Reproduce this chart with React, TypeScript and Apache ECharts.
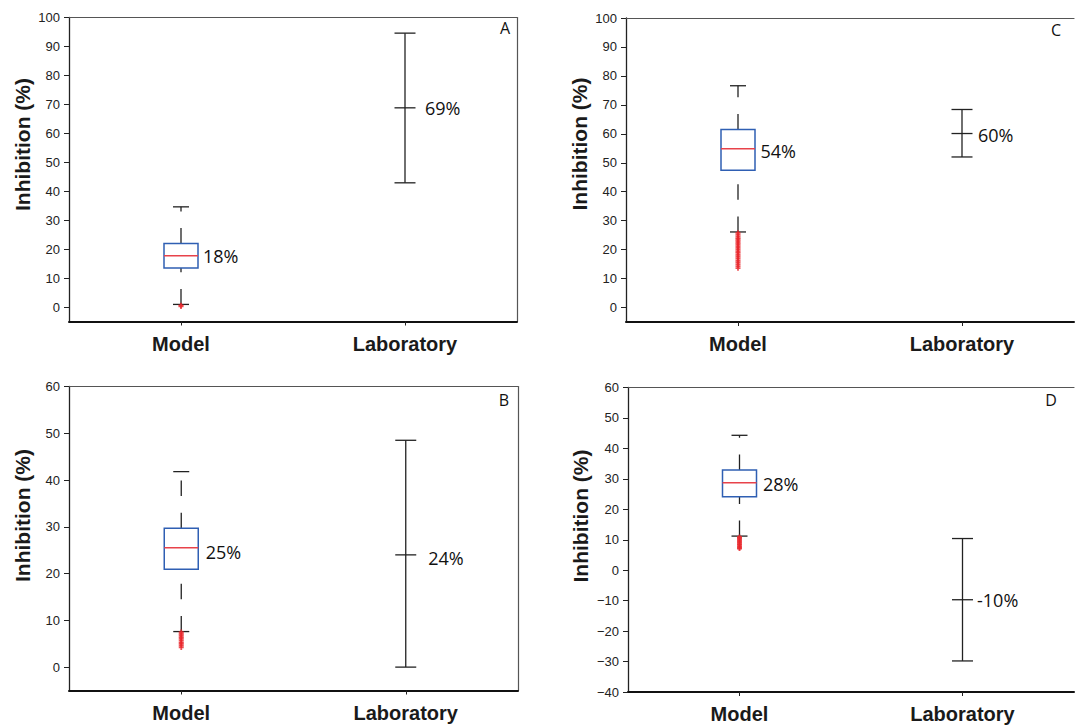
import React, { useEffect, useRef } from "react";
import * as echarts from "echarts";

// ---------- data ----------
const categories = ["Model", "Laboratory"];
const panelLetters = ["A", "B", "C", "D"];
const yTitle = "Inhibition (%)";

// Model box stats: [lower whisker, Q1, median, Q3, upper whisker]
const modelA = [0.9, 13.5, 17.7, 21.9, 34.6];
const modelB = [7.6, 20.9, 25.5, 29.7, 41.8];
const modelC = [26.1, 47.4, 54.8, 61.5, 76.6];
const modelD = [11.2, 24.1, 28.7, 32.9, 44.3];

// Model outliers (red +)
const outliersA = [0.6, 0.2];
const outliersB = [7.5, 7.1, 6.8, 6.4, 6.1, 5.7, 5.3, 5.0, 4.6, 4.2];
const outliersC = [25.8, 25.2, 24.6, 24.0, 23.5, 22.9, 22.3, 21.8, 21.2, 20.6, 20.0, 19.4, 18.9, 18.2, 17.6, 17.0, 16.3, 15.7, 15.0, 14.3, 13.6];
const outliersD = [10.9, 10.5, 10.1, 9.6, 9.2, 8.7, 8.3, 7.8, 7.4, 7.1];

// Laboratory: [low, mean, high]
const labA = [42.9, 68.8, 94.6];
const labB = [0, 24.0, 48.5];
const labC = [52.0, 60.1, 68.4];
const labD = [-29.8, -9.7, 10.4];

const modelLabels = ["18%", "25%", "54%", "28%"];
const labLabels = ["69%", "24%", "60%", "-10%"];

const ticks0to100 = [0, 10, 20, 30, 40, 50, 60, 70, 80, 90, 100];
const ticks0to60 = [0, 10, 20, 30, 40, 50, 60];
const ticksM40to60 = [-40, -30, -20, -10, 0, 10, 20, 30, 40, 50, 60];

// ---------- layout / style ----------
const panels = [
  { model: modelA, out: outliersA, lab: labA, mLabel: modelLabels[0], lLabel: labLabels[0], letter: panelLetters[0], ticks: ticks0to100, min: -5, max: 100,
    grid: { left: 69, top: 17.5, width: 448, height: 304 }, rightFrame: true, title: [22.5, 144.5], letterPos: [505, 28], mOff: [5, 0.7], lOff: [20, 0] },
  { model: modelB, out: outliersB, lab: labB, mLabel: modelLabels[1], lLabel: labLabels[1], letter: panelLetters[1], ticks: ticks0to60, min: -5, max: 60,
    grid: { left: 69, top: 386.5, width: 449, height: 304 }, rightFrame: true, title: [22.5, 515.5], letterPos: [504, 400], mOff: [7.5, 4], lOff: [22.5, 3.5] },
  { model: modelC, out: outliersC, lab: labC, mLabel: modelLabels[2], lLabel: labLabels[2], letter: panelLetters[2], ticks: ticks0to100, min: -5, max: 100,
    grid: { left: 626, top: 18, width: 448, height: 304 }, rightFrame: false, title: [579.5, 144], letterPos: [1056, 30], mOff: [5.5, 1.7], lOff: [16, 1.8] },
  { model: modelD, out: outliersD, lab: labD, mLabel: modelLabels[3], lLabel: labLabels[3], letter: panelLetters[3], ticks: ticksM40to60, min: -40, max: 60,
    grid: { left: 628, top: 387.5, width: 446, height: 304.5 }, rightFrame: false, title: [580, 516], letterPos: [1051, 400], mOff: [6.5, 0.7], lOff: [14.5, 0.3] },
];

const SANS = '"Liberation Sans", Arial, Helvetica, sans-serif';
const LABEL_FONT = '"Open Sans", "Noto Sans", sans-serif';
const INK = "#222";
const FRAME = "#555";

function boxRenderer(label: string, dx: number, dy: number) {
  return (_params: any, api: any) => {
    const xi = api.value(0);
    const lo = api.coord([xi, api.value(1)]);
    const q1 = api.coord([xi, api.value(2)]);
    const md = api.coord([xi, api.value(3)]);
    const q3 = api.coord([xi, api.value(4)]);
    const hi = api.coord([xi, api.value(5)]);
    const cx = lo[0];
    const bh = 17;
    const ch = 8;
    const dash = { stroke: INK, lineWidth: 1.3, lineDash: [15.5, 16.7] };
    const solid = { stroke: INK, lineWidth: 1.3 };
    return {
      type: "group",
      children: [
        { type: "line", shape: { x1: cx, y1: lo[1], x2: cx, y2: q1[1] }, style: dash },
        { type: "line", shape: { x1: cx, y1: q3[1], x2: cx, y2: hi[1] }, style: dash },
        { type: "line", shape: { x1: cx - ch, y1: lo[1], x2: cx + ch, y2: lo[1] }, style: solid },
        { type: "line", shape: { x1: cx - ch, y1: hi[1], x2: cx + ch, y2: hi[1] }, style: solid },
        { type: "rect", shape: { x: cx - bh, y: q3[1], width: 2 * bh, height: q1[1] - q3[1] }, style: { fill: "none", stroke: "#2f5fb3", lineWidth: 1.5 } },
        { type: "line", shape: { x1: cx - bh, y1: md[1], x2: cx + bh, y2: md[1] }, style: { stroke: "#e8424a", lineWidth: 1.5 } },
        { type: "text", x: cx + bh + dx, y: md[1] + dy, style: { text: label, fontSize: 18, fontFamily: LABEL_FONT, fill: "#111", align: "left", verticalAlign: "middle" } },
      ],
    };
  };
}

function labRenderer(label: string, dx: number, dy: number) {
  return (_params: any, api: any) => {
    const xi = api.value(0);
    const lo = api.coord([xi, api.value(1)]);
    const md = api.coord([xi, api.value(2)]);
    const hi = api.coord([xi, api.value(3)]);
    const cx = lo[0];
    const hw = 10.5;
    const solid = { stroke: INK, lineWidth: 1.3 };
    return {
      type: "group",
      children: [
        { type: "line", shape: { x1: cx, y1: lo[1], x2: cx, y2: hi[1] }, style: solid },
        { type: "line", shape: { x1: cx - hw, y1: lo[1], x2: cx + hw, y2: lo[1] }, style: solid },
        { type: "line", shape: { x1: cx - hw, y1: hi[1], x2: cx + hw, y2: hi[1] }, style: solid },
        { type: "line", shape: { x1: cx - hw, y1: md[1], x2: cx + hw, y2: md[1] }, style: solid },
        { type: "text", x: cx + dx, y: md[1] + dy, style: { text: label, fontSize: 18, fontFamily: LABEL_FONT, fill: "#111", align: "left", verticalAlign: "middle" } },
      ],
    };
  };
}

const PLUS = "path://M1.6,0H3.4V1.6H5V3.4H3.4V5H1.6V3.4H0V1.6H1.6Z";

function buildOption() {
  const grid: any[] = [];
  const xAxis: any[] = [];
  const yAxis: any[] = [];
  const series: any[] = [];
  const graphic: any[] = [];

  panels.forEach((p, i) => {
    grid.push({ ...p.grid, show: false });
    // bottom category axis (index 2*i)
    xAxis.push({
      gridIndex: i,
      type: "category",
      position: "bottom",
      data: categories,
      boundaryGap: true,
      axisLine: { show: true, onZero: false, lineStyle: { color: "#111", width: 2 } },
      axisTick: { show: true, alignWithLabel: true, length: 4, lineStyle: { color: INK } },
      axisLabel: { fontSize: 20, fontWeight: "bold", fontFamily: SANS, color: "#1a1a1a", margin: 12 },
      splitLine: { show: false },
    });
    // top frame line (index 2*i+1)
    xAxis.push({
      gridIndex: i,
      type: "category",
      position: "top",
      data: categories,
      axisLine: { show: true, onZero: false, lineStyle: { color: FRAME, width: 1.2 } },
      axisTick: { show: false },
      axisLabel: { show: false },
      splitLine: { show: false },
    });
    yAxis.push({
      gridIndex: i,
      type: "value",
      position: "left",
      min: p.min,
      max: p.max,
      axisLine: { show: true, onZero: false, lineStyle: { color: INK, width: 1.3 } },
      axisTick: { show: true, length: 5, customValues: p.ticks, lineStyle: { color: INK } },
      axisLabel: {
        customValues: p.ticks,
        fontSize: 13,
        fontFamily: SANS,
        color: INK,
        margin: 9,
        formatter: (v: number) => String(v).replace("-", "\u2212"),
      },
      splitLine: { show: false },
    });
    // right frame line
    yAxis.push({
      gridIndex: i,
      type: "value",
      position: "right",
      min: p.min,
      max: p.max,
      show: p.rightFrame,
      axisLine: { show: true, onZero: false, lineStyle: { color: FRAME, width: 1.2 } },
      axisTick: { show: false },
      axisLabel: { show: false },
      splitLine: { show: false },
    });
    const xi = 2 * i;
    const yi = 2 * i;
    series.push({
      type: "custom",
      xAxisIndex: xi,
      yAxisIndex: yi,
      renderItem: boxRenderer(p.mLabel, p.mOff[0], p.mOff[1]),
      encode: { x: 0, y: [1, 2, 3, 4, 5] },
      data: [[0, ...p.model]],
      z: 3,
    });
    series.push({
      type: "scatter",
      xAxisIndex: xi,
      yAxisIndex: yi,
      symbol: PLUS,
      symbolSize: 5,
      itemStyle: { color: "#e8262b" },
      data: p.out.map((v) => [0, v]),
      z: 4,
    });
    series.push({
      type: "custom",
      xAxisIndex: xi,
      yAxisIndex: yi,
      renderItem: labRenderer(p.lLabel, p.lOff[0], p.lOff[1]),
      encode: { x: 0, y: [1, 2, 3] },
      data: [[1, ...p.lab]],
      z: 3,
    });
    graphic.push({
      type: "text",
      x: p.title[0],
      y: p.title[1],
      rotation: Math.PI / 2,
      style: { text: yTitle, fontSize: 21, fontWeight: "bold", fontFamily: SANS, fill: "#1a1a1a", align: "center", verticalAlign: "middle" },
    });
    graphic.push({
      type: "text",
      x: p.letterPos[0],
      y: p.letterPos[1],
      style: { text: p.letter, fontSize: 16, fontFamily: LABEL_FONT, fill: "#111", align: "center", verticalAlign: "middle" },
    });
  });

  return {
    animation: false,
    backgroundColor: "#ffffff",
    grid,
    xAxis,
    yAxis,
    series,
    graphic,
  };
}

export default function App() {
  const ref = useRef<HTMLDivElement>(null);
  useEffect(() => {
    if (!ref.current) return;
    const chart = echarts.init(ref.current, undefined, { renderer: "svg" });
    chart.setOption(buildOption() as any);
    return () => chart.dispose();
  }, []);
  return (
    <div
      ref={ref}
      style={{ position: "absolute", left: 0, top: 0, width: 1075, height: 727, overflow: "hidden", background: "#fff" }}
    />
  );
}
